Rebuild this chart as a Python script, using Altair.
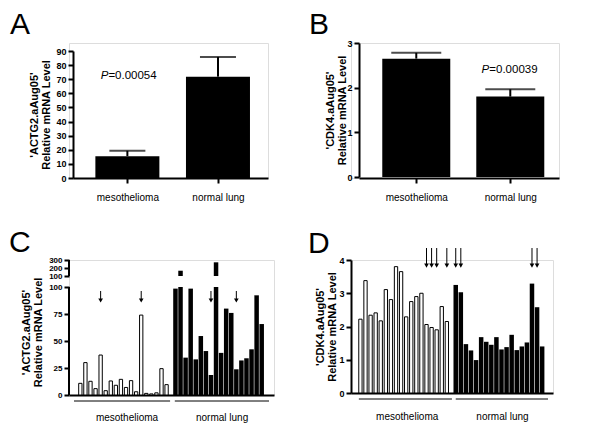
import json
import altair as alt
import pandas as pd

FONT = "Liberation Sans"

# ---------------- data ----------------
GROUPS = ["mesothelioma", "normal lung"]

# Panel A: ACTG2 group means and mean+SEM
ACTG2_MEAN = [15.5, 71.8]
ACTG2_UPPER = [19.3, 85.8]
ACTG2_P = "=0.00054"

# Panel B: CDK4 group means and mean+SEM
CDK4_MEAN = [2.65, 1.80]
CDK4_UPPER = [2.78, 1.965]
CDK4_P = "=0.00039"

# Panel C: ACTG2 per-sample
ACTG2_MESO = [10.8, 30, 12.7, 5.9, 37, 4, 13, 9, 14.5, 7, 13.3, 3, 74, 1.5, 1, 2, 24.4, 9.6]
ACTG2_NORMAL = [98.5, 166, 34.6, 98.5, 33, 54.6, 40.7, 18.5, 271, 39, 80, 76, 23.8, 32, 34, 42.3, 92.3, 65.7]
ACTG2_ARROW_MESO = [4, 12]
ACTG2_ARROW_NORMAL = [7, 12]
ACTG2_TICKS_LOW = [0, 25, 50, 75, 100]
ACTG2_TICKS_HIGH = [100, 200, 300]

# Panel D: CDK4 per-sample
CDK4_MESO = [2.22, 3.38, 2.34, 2.41, 2.17, 3.11, 2.81, 3.8, 3.65, 2.29, 2.75, 2.9, 3.0, 2.06, 1.97, 1.9, 2.6, 2.15]
CDK4_NORMAL = [3.25, 3.03, 1.47, 1.28, 0.99, 1.68, 1.54, 1.45, 1.68, 1.31, 1.38, 1.75, 1.29, 1.4, 1.52, 3.29, 2.58, 1.4]
CDK4_ARROW_MESO = [13, 14, 15, 17]
CDK4_ARROW_NORMAL = [0, 1, 15, 16]
CDK4_TICKS = [0, 1, 2, 3, 4]

Y_TITLE_ACTG2 = ["'ACTG2.aAug05'", "Relative mRNA Level"]
Y_TITLE_CDK4 = ["'CDK4.aAug05'", "Relative mRNA Level"]

# ---------------- styling helpers ----------------
GROUP_GAP = 0.75      # extra slot between the two groups in C / D
BREAK_EPS = 0.001


def y_axis(title, values, offset=0, domain=True, fmt=None, title_pad=4, label_size=9,
           title_y=None):
    kw = dict(
        title=title, values=values, grid=False, domain=domain,
        domainColor="black", domainWidth=2, tickColor="black", tickWidth=2,
        tickSize=5, labelFont=FONT, labelFontSize=label_size, labelFontWeight="bold",
        labelColor="black", labelPadding=2, labelOverlap=False,
        titleFont=FONT, titleFontSize=11, titleFontWeight="bold",
        titleColor="black", titlePadding=title_pad, titleLineHeight=12.5,
        offset=offset,
    )
    if fmt:
        kw["format"] = fmt
    if title_y is not None:
        kw["titleY"] = title_y
    return alt.Axis(**kw)


def letter(text, dx, dy):
    return alt.TitleParams(text, anchor="start", frame="group", fontSize=30,
                           fontWeight="normal", font=FONT, color="black",
                           dx=dx, dy=dy, offset=0, baseline="alphabetic")


def summary_panel(title, ytitle, means, uppers, yticks, p_text, p_idx, p_y, p_dx,
                  width, height, xrange_, xdomain, yrange, bar_size, cap_size,
                  yoffset, title_pad, tdx, tdy):
    df = pd.DataFrame({"pos": list(range(len(GROUPS))), "grp": GROUPS,
                       "mean": means, "upper": uppers})
    label_expr = json.dumps(GROUPS) + "[round(datum.value)]"
    xscale = alt.Scale(domain=xdomain, range=xrange_, nice=False, zero=False)
    xaxis = alt.Axis(title=None, values=list(range(len(GROUPS))),
                     labelExpr=label_expr, grid=False, domainColor="black",
                     domainWidth=2, tickColor="black", tickWidth=2, tickSize=5,
                     labelFont=FONT, labelFontSize=10, labelColor="black",
                     labelPadding=9, labelFlush=False, labelOverlap=False,
                     labelAngle=0)
    yscale = alt.Scale(domain=[yticks[0], yticks[-1]], range=yrange,
                       nice=False, zero=False)
    yaxis = y_axis(ytitle, yticks, offset=yoffset, title_pad=title_pad)

    def X(f):
        return alt.X(f, scale=xscale, axis=xaxis)

    def Y(f):
        return alt.Y(f, scale=yscale, axis=yaxis)

    base = alt.Chart(df)
    bars = base.mark_bar(size=bar_size, color="black").encode(
        x=X("pos:Q"), y=Y("mean:Q"), y2=alt.datum(0))
    err = base.mark_rule(strokeWidth=2, color="black").encode(
        x=X("pos:Q"), y=Y("mean:Q"), y2="upper:Q")
    cap = base.mark_tick(orient="horizontal", size=cap_size, thickness=2,
                         color="black").encode(x=X("pos:Q"), y=Y("upper:Q"))
    pdf = pd.DataFrame({"pos": [p_idx], "y": [p_y]})
    p_italic = alt.Chart(pdf).mark_text(text="P", fontStyle="italic", align="right",
                                        baseline="middle", dx=p_dx, fontSize=11.5,
                                        font=FONT, color="black").encode(
        x=X("pos:Q"), y=Y("y:Q"))
    p_value = alt.Chart(pdf).mark_text(text=p_text, align="left", baseline="middle",
                                       dx=p_dx, fontSize=11.5, font=FONT,
                                       color="black").encode(x=X("pos:Q"), y=Y("y:Q"))
    return alt.layer(bars, err, cap, p_italic, p_value).properties(
        width=width, height=height, title=letter(title, tdx, tdy))


def positions(meso, normal):
    pm = list(range(len(meso)))
    pn = [len(meso) + GROUP_GAP + i for i in range(len(normal))]
    return pm, pn


def sample_panel(title, meso, normal, arrows_m, arrows_n, width, height,
                 xdomain, yscale, yaxis, split, axis_ends, arrow_top, arrow_head,
                 lines, label_pad, tdx, tdy):
    pm, pn = positions(meso, normal)
    boundary = (pm[-1] + pn[0]) / 2

    def seg_rows(pos, vals):
        rows = []
        for p, v in zip(pos, vals):
            if split is not None and v > split:
                rows.append({"pos": p, "lo": 0, "hi": split})
                rows.append({"pos": p, "lo": split + BREAK_EPS, "hi": v})
            else:
                rows.append({"pos": p, "lo": 0, "hi": v})
        return pd.DataFrame(rows)

    dm = seg_rows(pm, meso)
    dn = seg_rows(pn, normal)
    centers = [sum(pm) / len(pm) + 0.6, sum(pn) / len(pn) + 0.6]
    label_expr = ("datum.value < %s ? %s : %s" %
                  (boundary, json.dumps(GROUPS[0]), json.dumps(GROUPS[1])))
    xscale = alt.Scale(domain=xdomain, nice=False, zero=False)
    xaxis = alt.Axis(title=None, values=centers, labelExpr=label_expr,
                     ticks=False, tickSize=0, grid=False, domainColor="black",
                     domainWidth=2, labelFont=FONT, labelFontSize=10,
                     labelColor="black", labelPadding=label_pad,
                     labelFlush=False, labelOverlap=False, labelAngle=0)

    def X(f):
        return alt.X(f, scale=xscale, axis=xaxis)

    def Y(f):
        return alt.Y(f, scale=yscale, axis=yaxis)

    meso_bars = alt.Chart(dm).mark_bar(size=3.3, fill="white", stroke="black",
                                       strokeWidth=1).encode(
        x=X("pos:Q"), y=Y("lo:Q"), y2="hi:Q")
    norm_bars = alt.Chart(dn).mark_bar(size=4.5, color="black").encode(
        x=X("pos:Q"), y=Y("lo:Q"), y2="hi:Q")
    arrow_pos = [pm[i] for i in arrows_m] + [pn[i] for i in arrows_n]
    da = pd.DataFrame({"pos": arrow_pos, "top": [arrow_top] * len(arrow_pos),
                       "head": [arrow_head] * len(arrow_pos)})
    arrow_line = alt.Chart(da).mark_rule(strokeWidth=1, color="black").encode(
        x=X("pos:Q"), y=Y("top:Q"), y2="head:Q")
    arrow_tip = alt.Chart(da).mark_point(shape="triangle-down", filled=True, size=22,
                                         color="black", opacity=1).encode(
        x=X("pos:Q"), y=Y("head:Q"))
    (m0, m1), (n0, n1) = lines
    dl = pd.DataFrame({"x0": [m0, n0], "x1": [m1, n1]})
    group_lines = alt.Chart(dl).mark_rule(strokeWidth=1, color="black").encode(
        x=X("x0:Q"), x2="x1:Q", y=alt.value(height + 6))
    layers = [meso_bars, norm_bars, arrow_line, arrow_tip, group_lines]
    if split is not None:
        axis_df = pd.DataFrame({"a": [axis_ends[0], split + BREAK_EPS],
                                "b": [split, axis_ends[1]]})
        axis_line = alt.Chart(axis_df).mark_rule(strokeWidth=2, color="black").encode(
            x=alt.value(0), y=Y("a:Q"), y2="b:Q")
        layers.append(axis_line)
    return alt.layer(*layers).properties(width=width, height=height,
                                         title=letter(title, tdx, tdy))


# ---------------- panels ----------------
panel_a = summary_panel("A", Y_TITLE_ACTG2, ACTG2_MEAN, ACTG2_UPPER,
                        list(range(0, 91, 10)), ACTG2_P, 0, 72, -19,
                        width=199, height=135, xrange_=[4, 199],
                        xdomain=[-0.545, 1.497], yrange=[135, 8], bar_size=64,
                        cap_size=36, yoffset=-4, title_pad=4, tdx=-59, tdy=20.5)

panel_b = summary_panel("B", Y_TITLE_CDK4, CDK4_MEAN, CDK4_UPPER,
                        [0, 1, 2, 3], CDK4_P, 1, 2.4, -21,
                        width=208, height=135, xrange_=[8, 208],
                        xdomain=[-0.556, 1.465], yrange=[134, 0], bar_size=68,
                        cap_size=50, yoffset=-8, title_pad=-1, tdx=-42, tdy=24.5)

c_scale = alt.Scale(domain=[0, 100, 100 + BREAK_EPS, 300], range=[135, 27, 16, 0],
                    nice=False, zero=False)
c_axis = y_axis(Y_TITLE_ACTG2, ACTG2_TICKS_LOW + [100 + BREAK_EPS] + ACTG2_TICKS_HIGH[1:],
                domain=False, fmt="d", title_pad=5, label_size=8, title_y=72)
panel_c = sample_panel("C", ACTG2_MESO, ACTG2_NORMAL,
                       ACTG2_ARROW_MESO, ACTG2_ARROW_NORMAL, width=205, height=135,
                       xdomain=[-1.25, 37.19], yscale=c_scale, yaxis=c_axis,
                       split=100, axis_ends=[ACTG2_TICKS_LOW[0], ACTG2_TICKS_HIGH[-1]],
                       arrow_top=96.3, arrow_head=87.5,
                       lines=[(-1.25, 17.69), (18.62, 37.19)], label_pad=17,
                       tdx=-60, tdy=26)

d_scale = alt.Scale(domain=[0, 4], nice=False, zero=False)
d_axis = y_axis(Y_TITLE_CDK4, CDK4_TICKS, title_pad=1)
panel_d = sample_panel("D", CDK4_MESO, CDK4_NORMAL,
                       CDK4_ARROW_MESO, CDK4_ARROW_NORMAL, width=202, height=133,
                       xdomain=[-0.87, 36.9], yscale=d_scale, yaxis=d_axis,
                       split=None, axis_ends=None, arrow_top=4.36, arrow_head=3.83,
                       lines=[(-0.31, 18.0), (18.75, 36.9)], label_pad=18,
                       tdx=-43, tdy=35)

chart = alt.concat(panel_a, panel_b, panel_c, panel_d, columns=2,
                   bounds="flush", align="each",
                   spacing={"row": 82, "column": 77}).properties(
    padding={"left": 0, "top": 1, "right": 0, "bottom": 0},
    background="white",
).configure_view(stroke=None).configure_axis(labelOverlap=False).configure(font=FONT)

chart.save("out.html", embed_options={"renderer": "svg", "actions": False})
